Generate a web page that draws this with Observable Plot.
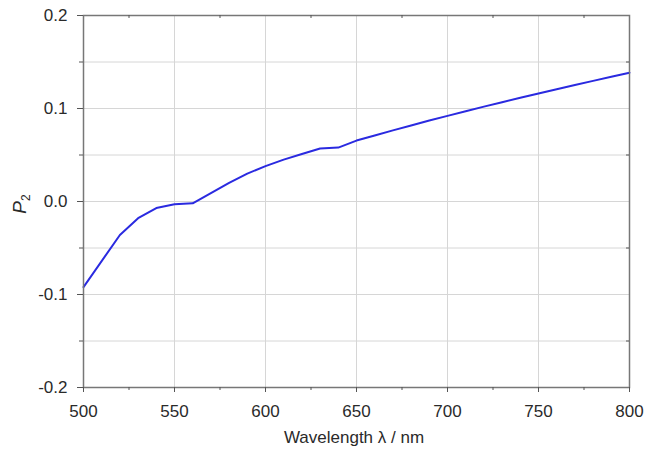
<!DOCTYPE html>
<html><head><meta charset="utf-8">
<script src="https://cdn.jsdelivr.net/npm/d3@7"></script>
<script src="https://cdn.jsdelivr.net/npm/@observablehq/plot@0.6"></script>
<style>body{margin:0;background:#fff}</style>
</head><body><div id="chart"></div>
<script>
const wavelength = [500,520,530,540,550,560,570,580,590,600,610,620,630,640,650,660,670,680,690,700,710,720,730,740,750,760,770,780,790,800];
const p2 = [-0.092,-0.036,-0.018,-0.007,-0.003,-0.002,0.009,0.020,0.030,0.038,0.045,0.051,0.057,0.058,0.0655,0.0710,0.0765,0.0818,0.0870,0.0921,0.0971,0.1020,0.1068,0.1115,0.1162,0.1207,0.1252,0.1297,0.1341,0.1385];
const xMajor = [500,550,600,650,700,750,800];
const xMinor = [525,575,625,675,725,775];
const xGrid = [550,600,650,700,750];
const yMajor = [-0.2,-0.1,0,0.1,0.2];
const yMinor = [-0.15,-0.05,0.05,0.15];
const yGrid = [-0.15,-0.1,-0.05,0,0.05,0.1,0.15];
const xLabel = "Wavelength λ / nm";

const data = wavelength.map((w, i) => ({w, p: p2[i]}));
const W = 645, H = 450, mL = 83, mR = 16, mT = 15, mB = 63;
const plotW = W - mL - mR, plotH = H - mT - mB;

const svg = Plot.plot({
  width: W, height: H,
  marginLeft: mL, marginRight: mR, marginTop: mT, marginBottom: mB,
  style: {fontFamily: "'Liberation Sans', Arial, sans-serif", fontSize: "17px", color: "#2a2a2a", background: "#fff"},
  x: {domain: [500, 800]},
  y: {domain: [-0.2, 0.2]},
  marks: [
    Plot.gridX(xGrid, {stroke: "#d6d6d6", strokeOpacity: 1}),
    Plot.gridY(yGrid, {stroke: "#d6d6d6", strokeOpacity: 1}),
    Plot.line(data, {x: "w", y: "p", stroke: "#2a2ae0", strokeWidth: 2}),
    Plot.frame({stroke: "#777", strokeWidth: 1.5}),
    Plot.axisX(xMajor, {tickSize: 5, tickPadding: 12, label: null, stroke: "#555", fill: "#2a2a2a", tickFormat: d => String(d)}),
    Plot.axisX(xMinor, {tickSize: 3, label: null, stroke: "#555", tickFormat: () => ""}),
    Plot.axisY(yMajor, {tickSize: 6, tickPadding: 10, label: null, stroke: "#555", fill: "#2a2a2a", tickFormat: d => d.toFixed(1)}),
    Plot.axisY(yMinor, {tickSize: 4, label: null, stroke: "#555", tickFormat: () => ""}),
    Plot.tickX(xMinor, {x: d => d, insetBottom: plotH - 3, stroke: "#555"}),
    Plot.tickY(yMinor, {y: d => d, insetLeft: plotW - 3, stroke: "#555"})
  ]
});

const s = d3.select(svg);
s.append("text")
  .attr("x", mL + plotW / 2 - 2).attr("y", 443)
  .attr("text-anchor", "middle")
  .attr("fill", "#2a2a2a")
  .style("font-size", "17px")
  .text(xLabel);
const yl = s.append("text")
  .attr("transform", "translate(26,204) rotate(-90)")
  .attr("text-anchor", "middle")
  .attr("fill", "#2a2a2a")
  .style("font-size", "19px");
yl.append("tspan").attr("font-style", "italic").text("P");
yl.append("tspan").attr("dy", "0.3em").style("font-size", "12px").text("2");

document.getElementById("chart").appendChild(svg);
</script>
</body></html>
